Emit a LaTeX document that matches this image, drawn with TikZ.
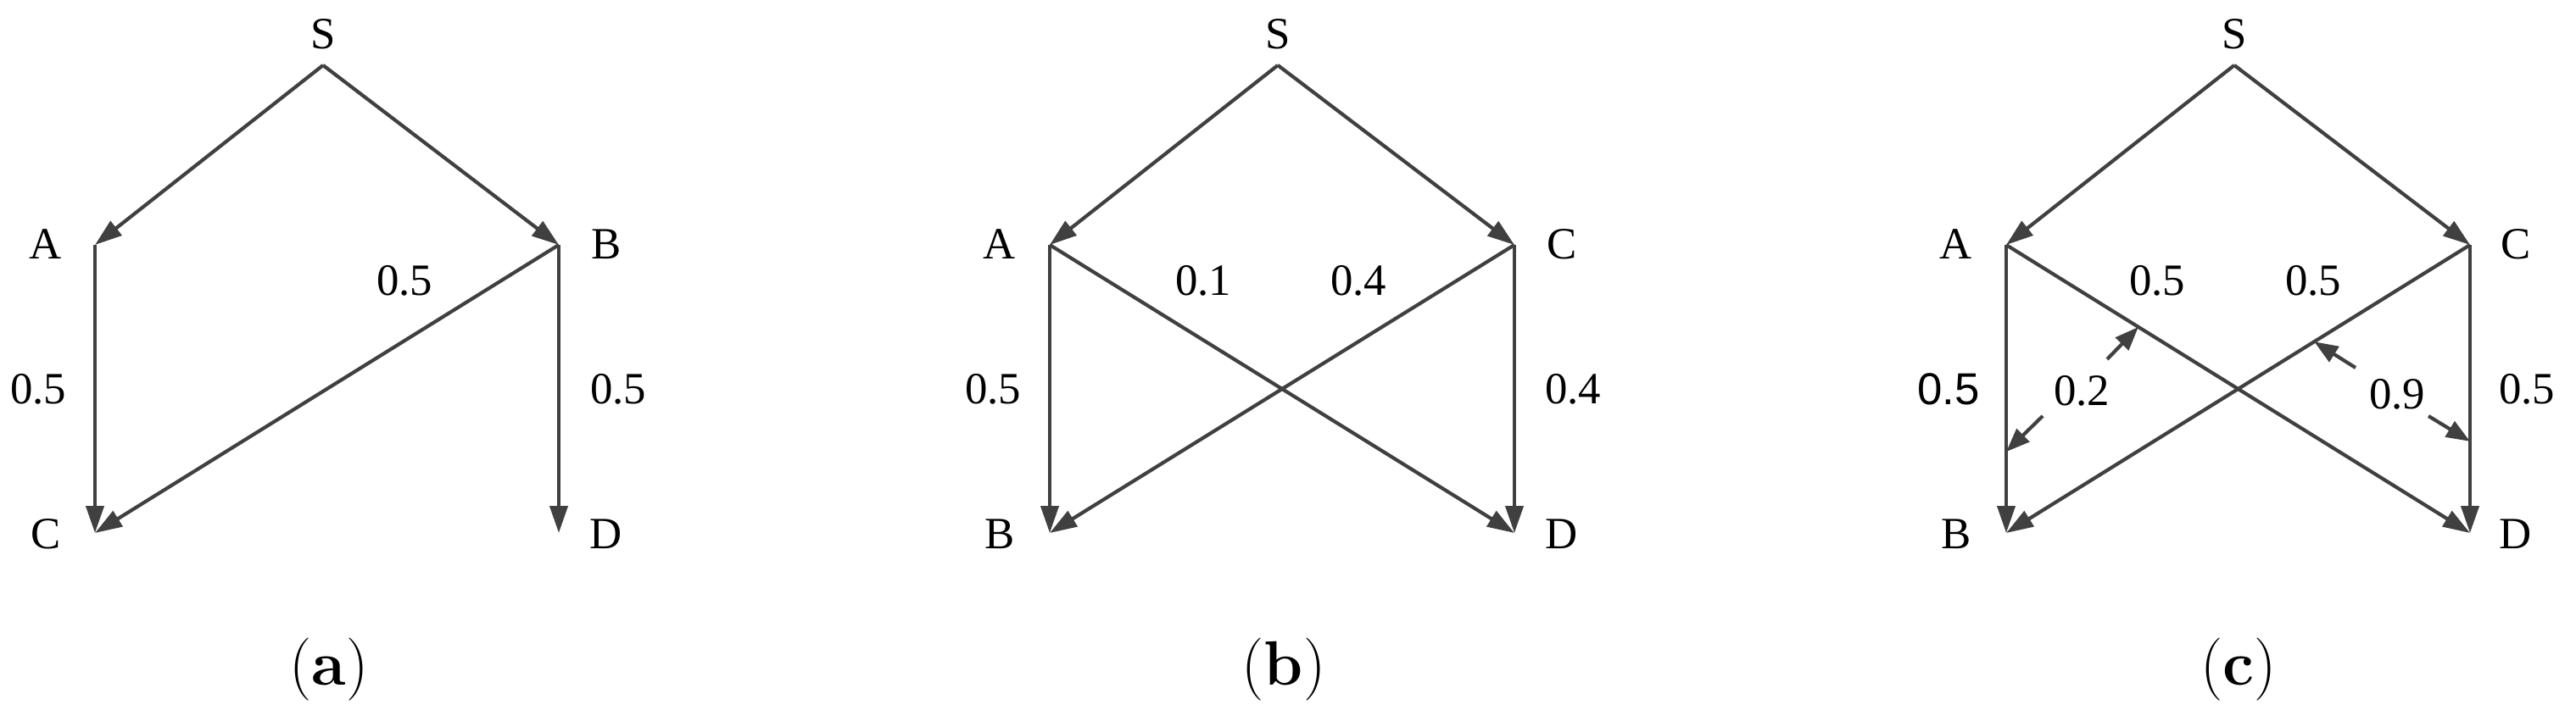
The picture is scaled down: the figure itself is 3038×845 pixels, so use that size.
\documentclass[tikz,border=0pt]{standalone}
\usepackage{fontspec}
\newfontfamily\tnr{Liberation Serif}
\newfontfamily\arial{Liberation Sans}
\usetikzlibrary{arrows.meta}
\definecolor{linegray}{RGB}{64,64,64}
\tikzset{
  edge/.style={draw=linegray, line width=1.05pt, -{Triangle[length=8pt,width=5.25pt]}},
  smallarrow/.style={draw=linegray, line width=1.05pt, -{Triangle[length=7pt,width=5.25pt]}},
  lbl/.style={font=\tnr\fontsize{13.2}{15}\selectfont, inner sep=0pt},
  albl/.style={font=\arial\fontsize{13.2}{15}\selectfont, inner sep=0pt},
  captxt/.style={font=\fontsize{18.5}{22}\selectfont, inner sep=0pt}
}
\begin{document}
\begin{tikzpicture}[x=0.25pt,y=-0.25pt]
\useasboundingbox (0,0) rectangle (3038,845);
% ---------------- panel (a)
\coordinate (aS) at (381,77);
\coordinate (aA) at (112,289);
\coordinate (aB) at (659,289);
\coordinate (aC) at (112,629);
\coordinate (aD) at (659,629);
\node[lbl] (aSt) at (381,40) {S};
\node[lbl] (aAt) at (54,288) {A};
\node[lbl] (aBt) at (715,288) {B};
\node[lbl] (aCt) at (54,630) {C};
\node[lbl] (aDt) at (715,630) {D};
\draw[edge] (aS) -- (aA);
\draw[edge] (aS) -- (aB);
\draw[edge] (aA) -- (aC);
\draw[edge] (aB) -- (aC);
\draw[edge] (aB) -- (aD);
\node[lbl] (aw1) at (477,331) {0.5};
\node[lbl] (aw2) at (45,459) {0.5};
\node[lbl] (aw3) at (729,459) {0.5};
\node[captxt] (acap) at (388,790) {(\textbf{a})};
% ---------------- panel (b)
\coordinate (bS) at (1507,77);
\coordinate (bA) at (1238,289);
\coordinate (bC) at (1786,289);
\coordinate (bB) at (1238,629);
\coordinate (bD) at (1786,629);
\node[lbl] (bSt) at (1507,40) {S};
\node[lbl] (bAt) at (1179,288) {A};
\node[lbl] (bCt) at (1842,288) {C};
\node[lbl] (bBt) at (1179,630) {B};
\node[lbl] (bDt) at (1842,630) {D};
\draw[edge] (bS) -- (bA);
\draw[edge] (bS) -- (bC);
\draw[edge] (bA) -- (bB);
\draw[edge] (bA) -- (bD);
\draw[edge] (bC) -- (bB);
\draw[edge] (bC) -- (bD);
\node[lbl] (bw1) at (1419,331) {0.1};
\node[lbl] (bw2) at (1602,331) {0.4};
\node[lbl] (bw3) at (1171,459) {0.5};
\node[lbl] (bw4) at (1855,459) {0.4};
\node[captxt] (bcap) at (1514,790) {(\textbf{b})};
% ---------------- panel (c)
\coordinate (cS) at (2635,77);
\coordinate (cA) at (2366,289);
\coordinate (cC) at (2913,289);
\coordinate (cB) at (2366,629);
\coordinate (cD) at (2913,629);
\node[lbl] (cSt) at (2635,40) {S};
\node[lbl] (cAt) at (2307,288) {A};
\node[lbl] (cCt) at (2967,288) {C};
\node[lbl] (cBt) at (2307,630) {B};
\node[lbl] (cDt) at (2967,630) {D};
\draw[edge] (cS) -- (cA);
\draw[edge] (cS) -- (cC);
\draw[edge] (cA) -- (cB);
\draw[edge] (cA) -- (cD);
\draw[edge] (cC) -- (cB);
\draw[edge] (cC) -- (cD);
\node[lbl] (cw1) at (2544,331) {0.5};
\node[lbl] (cw2) at (2728,331) {0.5};
\node[albl] (cw3) at (2298,459) {0.5};
\node[lbl] (cw4) at (2980,459) {0.5};
\node[lbl] (cw5) at (2455,461) {0.2};
\node[lbl] (cw6) at (2827,465) {0.9};
\path (cA) -- (cD) coordinate[pos=0.285] (t1);
\path (cA) -- (cB) coordinate[pos=0.718] (t2);
\path (cC) -- (cB) coordinate[pos=0.336] (t3);
\path (cC) -- (cD) coordinate[pos=0.682] (t4);
\coordinate (s1) at (2485,424);
\coordinate (s2) at (2409,491);
\coordinate (s3) at (2778,434);
\coordinate (s4) at (2864,491);
\draw[smallarrow] (s1) -- (t1);
\draw[smallarrow] (s2) -- (t2);
\draw[smallarrow] (s3) -- (t3);
\draw[smallarrow] (s4) -- (t4);
\node[captxt] (ccap) at (2640,790) {(\textbf{c})};
\end{tikzpicture}
\end{document}
